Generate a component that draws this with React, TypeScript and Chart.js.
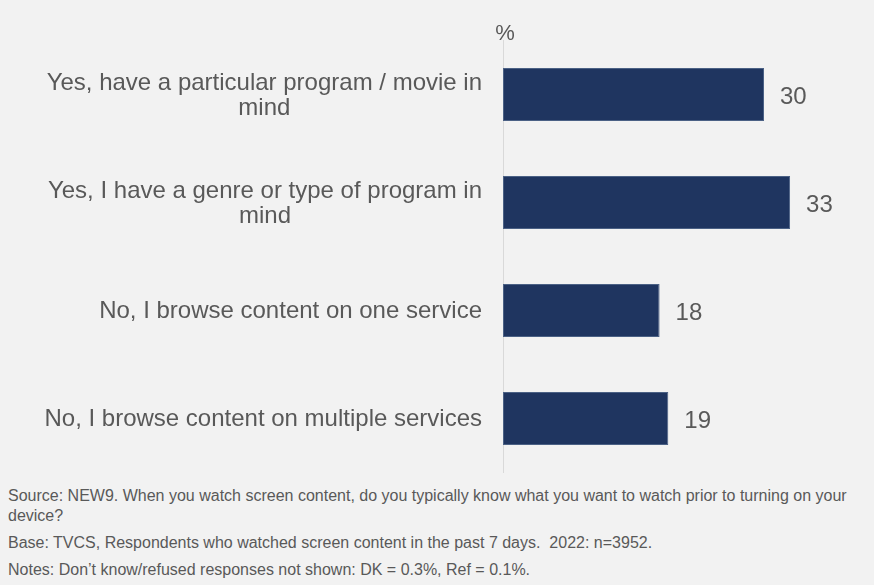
import React, { useEffect, useRef } from "react";
import { Chart, registerables } from "chart.js";

Chart.register(...registerables);

const categories: string[][] = [
  ["Yes, have a particular program / movie in", "mind"],
  ["Yes, I have a genre or type of program in", "mind"],
  ["No, I browse content on one service"],
  ["No, I browse content on multiple services"],
];
const values: number[] = [30, 33, 18, 19];
const axisUnit = "%";
const footnotes: string[][] = [
  [
    "Source: NEW9. When you watch screen content, do you typically know what you want to watch prior to turning on your",
    "device?",
  ],
  ["Base: TVCS, Respondents who watched screen content in the past 7 days.  2022: n=3952."],
  ["Notes: Don\u2019t know/refused responses not shown: DK = 0.3%, Ref = 0.1%."],
];

const FONT = "'Liberation Sans', Arial, sans-serif";
const TEXT = "#595959";

export default function App() {
  const ref = useRef<HTMLCanvasElement | null>(null);

  useEffect(() => {
    document.body.style.margin = "0";
    const canvas = ref.current;
    if (!canvas) return;

    const textPlugin = {
      id: "customText",
      afterDatasetsDraw(chart: any) {
        const ctx = chart.ctx;
        const yScale = chart.scales.y;
        const area = chart.chartArea;
        ctx.save();
        ctx.fillStyle = TEXT;
        ctx.font = `24px ${FONT}`;
        ctx.textBaseline = "alphabetic";
        // category labels
        categories.forEach((lines, i) => {
          const cy = yScale.getPixelForValue(i);
          const widest = Math.max(...lines.map((l) => ctx.measureText(l).width));
          const right = area.left - 21;
          const lh = 25;
          ctx.textAlign = "center";
          lines.forEach((l, j) => {
            const y = cy + 7.5 + (j - (lines.length - 1) / 2) * lh;
            ctx.fillText(l, right - widest / 2, y);
          });
        });
        // value labels
        const meta = chart.getDatasetMeta(0);
        ctx.textAlign = "left";
        meta.data.forEach((bar: any, i: number) => {
          ctx.fillText(String(values[i]), bar.x + 16, bar.y + 9);
        });
        // unit label
        ctx.textAlign = "center";
        ctx.font = `22px ${FONT}`;
        ctx.fillText(axisUnit, area.left + 2, 40);
        ctx.restore();
      },
    };

    const chart = new Chart(canvas, {
      type: "bar",
      data: {
        labels: categories.map((c) => c.join(" ")),
        datasets: [
          {
            data: values,
            backgroundColor: "#1f3560",
            borderColor: "#4b6185",
            borderWidth: 1,
            borderSkipped: false,
            categoryPercentage: 1,
            barPercentage: 0.49,
          },
        ],
      },
      options: {
        indexAxis: "y",
        animation: false,
        responsive: false,
        maintainAspectRatio: false,
        layout: { padding: { left: 503, right: 23, top: 40.5, bottom: 5.5 } },
        plugins: {
          legend: { display: false },
          tooltip: { enabled: false },
        },
        scales: {
          x: { display: false, min: 0, max: 40 },
          y: {
            grid: { display: false },
            ticks: { display: false },
            border: { display: true, color: "#d9d9d9", width: 1 },
            afterFit: (s: any) => {
              s.width = 0;
            },
          },
        },
      },
      plugins: [textPlugin],
    });
    return () => chart.destroy();
  }, []);

  return (
    <div
      style={{
        position: "relative",
        width: 874,
        height: 585,
        background: "#f2f2f2",
        overflow: "hidden",
      }}
    >
      <canvas ref={ref} width={874} height={478} style={{ display: "block" }} />
      <div
        style={{
          position: "absolute",
          left: 8,
          top: 486,
          fontFamily: FONT,
          fontSize: 16,
          color: TEXT,
          lineHeight: "20px",
        }}
      >
        {footnotes.map((p, i) => (
          <div key={i} style={{ marginBottom: 7, whiteSpace: "pre" }}>
            {p.map((l, j) => (
              <div key={j}>{l}</div>
            ))}
          </div>
        ))}
      </div>
    </div>
  );
}
